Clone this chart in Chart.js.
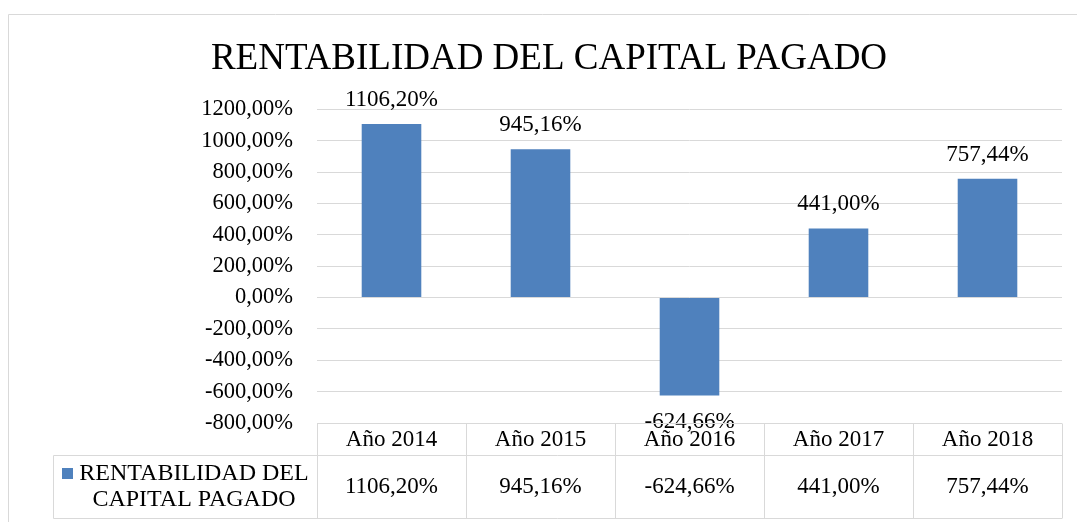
<!DOCTYPE html>
<html>
<head>
<meta charset="utf-8">
<script src="https://cdn.jsdelivr.net/npm/chart.js@4"></script>
<style>
  body { margin: 0; background: #fff; }
  canvas { display: block; }
</style>
</head>
<body>
<canvas id="barChart" width="1077" height="522"></canvas>
<script>
// data
var categories = ['Año 2014', 'Año 2015', 'Año 2016', 'Año 2017', 'Año 2018'];
var values = [1106.20, 945.16, -624.66, 441.00, 757.44];
var seriesName = 'RENTABILIDAD DEL CAPITAL PAGADO';
var legendLines = ['RENTABILIDAD DEL', 'CAPITAL PAGADO'];
var chartTitle = 'RENTABILIDAD DEL CAPITAL PAGADO';
var yMin = -800, yMax = 1200, yStep = 200;

var serif = '"Liberation Serif", "Times New Roman", serif';
var barColor = '#4F81BD';
var lineColor = '#d9d9d9';

function pct(v) {
  return v.toFixed(2).replace('.', ',') + '%';
}

// outer frame (left and top edges visible)
const framePlugin = {
  id: 'frame',
  beforeDraw(chart) {
    const c = chart.ctx;
    c.save();
    c.strokeStyle = lineColor;
    c.lineWidth = 1;
    c.beginPath();
    c.moveTo(8.5, chart.height);
    c.lineTo(8.5, 14.5);
    c.lineTo(chart.width, 14.5);
    c.stroke();
    c.restore();
  }
};

// value labels at the bar ends
const valueLabels = {
  id: 'valueLabels',
  afterDatasetsDraw(chart) {
    const c = chart.ctx;
    const meta = chart.getDatasetMeta(0);
    c.save();
    c.font = '23px ' + serif;
    c.fillStyle = '#000';
    c.textAlign = 'center';
    c.textBaseline = 'middle';
    meta.data.forEach(function(bar, i) {
      const v = values[i];
      const y = v >= 0 ? bar.y - 24 : bar.y + 26;
      c.fillText(pct(v), bar.x, y);
    });
    c.restore();
  }
};

// excel-like data table under the plot
const dataTable = {
  id: 'dataTable',
  afterDraw(chart) {
    const c = chart.ctx;
    const x = chart.scales.x;
    const area = chart.chartArea;
    const top = Math.round(area.bottom) + 0.5;
    const mid = top + 32;
    const bot = top + 95;
    const legLeft = 53.5;
    const colW = (area.right - area.left) / categories.length;

    c.save();
    c.strokeStyle = lineColor;
    c.lineWidth = 1;
    c.beginPath();
    c.moveTo(area.left, top); c.lineTo(area.right, top);
    c.moveTo(legLeft, mid); c.lineTo(area.right, mid);
    c.moveTo(legLeft, bot); c.lineTo(area.right, bot);
    c.moveTo(legLeft, mid); c.lineTo(legLeft, bot);
    for (let i = 0; i <= categories.length; i++) {
      const xx = Math.round(area.left + i * colW) + 0.5;
      c.moveTo(xx, top); c.lineTo(xx, bot);
    }
    c.stroke();

    c.font = '23px ' + serif;
    c.fillStyle = '#000';
    c.textAlign = 'center';
    c.textBaseline = 'middle';
    const valY = (mid + bot) / 2;
    values.forEach(function(v, i) {
      c.fillText(pct(v), x.getPixelForValue(i), valY);
    });

    // legend cell
    c.fillStyle = barColor;
    c.fillRect(62, 468, 11, 11);
    c.fillStyle = '#000';
    c.font = '24px ' + serif;
    c.fillText(legendLines[0], 194, 474);
    c.fillText(legendLines[1], 194, 500);
    c.restore();
  }
};

var ctx = document.getElementById('barChart');
var barChart = new Chart(ctx, {
  type: 'bar',
  data: {
    labels: categories,
    datasets: [{
      label: seriesName,
      data: values,
      backgroundColor: barColor,
      borderWidth: 0,
      categoryPercentage: 1,
      barPercentage: 0.4
    }]
  },
  options: {
    responsive: false,
    animation: false,
    layout: { padding: { left: 36, right: 15, top: 0, bottom: 0 } },
    plugins: {
      legend: { display: false },
      tooltip: { enabled: false },
      title: {
        display: true,
        text: chartTitle,
        color: '#000',
        font: { family: serif, size: 37, weight: 'normal', lineHeight: 1.2 },
        padding: { top: 37, bottom: 28 }
      }
    },
    scales: {
      x: {
        grid: { display: false, drawTicks: false },
        border: { display: false },
        ticks: {
          color: '#000',
          font: { family: serif, size: 23, lineHeight: 1.2 },
          padding: 3,
          maxRotation: 0
        },
        afterFit(scale) { scale.height = 99; }
      },
      y: {
        min: yMin,
        max: yMax,
        grid: { color: lineColor, drawTicks: false },
        border: { display: false },
        ticks: {
          stepSize: yStep,
          color: '#000',
          font: { family: serif, size: 22.5 },
          padding: 24,
          callback: function(v) { return pct(v); }
        },
        afterFit(scale) { scale.width = 281; }
      }
    }
  },
  plugins: [framePlugin, valueLabels, dataTable]
});
</script>
</body>
</html>
